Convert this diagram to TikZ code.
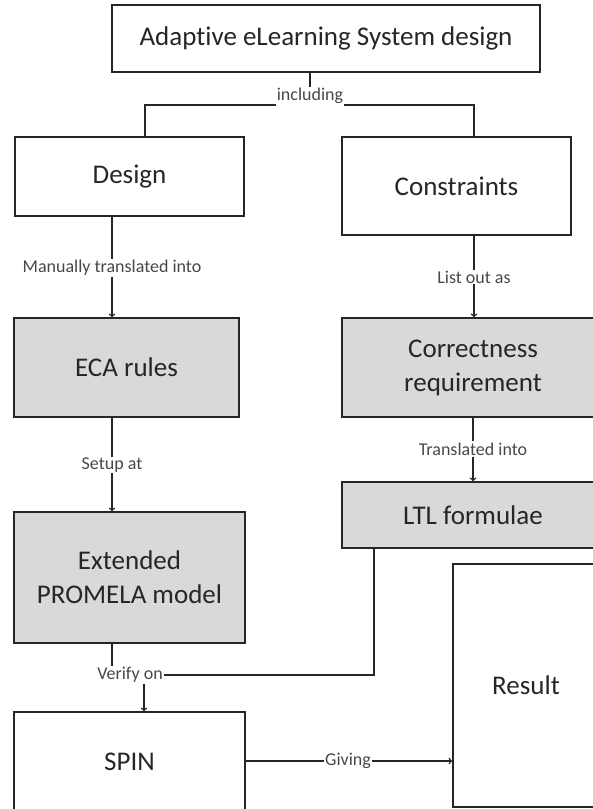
\documentclass[tikz,border=0pt]{standalone}
\usepackage{fontspec}
\setmainfont{Carlito}[Ligatures=CommonOff]
\definecolor{boxgray}{HTML}{D9D9D9}
\definecolor{ink}{HTML}{262626}

\begin{document}
\begin{tikzpicture}[x=1pt, y=-1pt,
		box/.style = {draw=ink, line width=1.4pt, text=ink, align=center, inner sep=0pt, font=\fontsize{27}{34}\selectfont},
		greybox/.style = {box, fill=boxgray},
		lbl/.style = {text=ink!85, inner sep=1pt, font=\fontsize{18}{20}\selectfont},
		line/.style = {draw=ink, line width=1.4pt}]
		\useasboundingbox (0,0) rectangle (593,809);
		\clip (0,0) rectangle (593,809);
		\node[box, minimum width=428, minimum height=67] (System) at (326,38.5) {Adaptive eLearning System design};
		\node[box, minimum width=229, minimum height=79] (Design) at (129.5,176.5) {Design};
		\node[box, minimum width=229, minimum height=98] (Constraints) at (456.5,186) {Constraints};
		\node[greybox, minimum width=225, minimum height=99] (ECA) at (126.5,367.5) {ECA rules};
		\node[greybox, minimum width=262, minimum height=99] (Correctness) at (473,367.5) {Correctness\\requirement};
		\node[greybox, minimum width=262, minimum height=66] (LTL) at (473,515) {LTL formulae};
		\node[greybox, minimum width=231, minimum height=131] (Promela) at (129.5,577.5) {Extended\\PROMELA model};
		\node[box, minimum width=231, minimum height=100] (SPIN) at (129.5,762) {SPIN};
		\node[box, minimum width=146, minimum height=243] (Result) at (526,685.5) {Result};
		\node[lbl] (including) at (310,96) {including};
		\node[lbl] (manually) at (112,268) {Manually translated into};
		\node[lbl] (listout) at (474,277) {List out as};
		\node[lbl] (translated) at (473,449) {Translated into};
		\node[lbl] (setup) at (112,465) {Setup at};
		\node[lbl] (verify) at (130,675) {Verify on};
		\node[lbl] (giving) at (348,761) {Giving};
		\draw[line] (System.south -| including) -- (including);
		\draw[line] (including.south west) -| ([xshift=15.5]Design.north);
		\draw[line] (including.south east) -| ([xshift=17.5]Constraints.north);
		\draw[line] (Design.south -| manually) -- (manually);
		\draw[line, ->] (manually) -- (ECA.north -| manually);
		\draw[line] (Constraints.south -| listout) -- (listout);
		\draw[line, ->] (listout) -- (Correctness.north -| listout);
		\draw[line] (Correctness.south -| translated) -- (translated);
		\draw[line, ->] (translated) -- (LTL.north -| translated);
		\draw[line] (ECA.south -| setup) -- (setup);
		\draw[line, ->] (setup) -- (Promela.north -| setup);
		\draw[line] ([xshift=-17.5]Promela.south) -- ([xshift=-18]verify.north);
		\draw[line] ([xshift=-99]LTL.south) |- (verify.east);
		\draw[line, ->] ([xshift=14]verify.south) -- ([xshift=14]verify.south |- SPIN.north);
		\draw[line] (SPIN.east |- giving) -- (giving);
		\draw[line, ->] (giving) -- (Result.west |- giving);
	\end{tikzpicture}
\end{document}
